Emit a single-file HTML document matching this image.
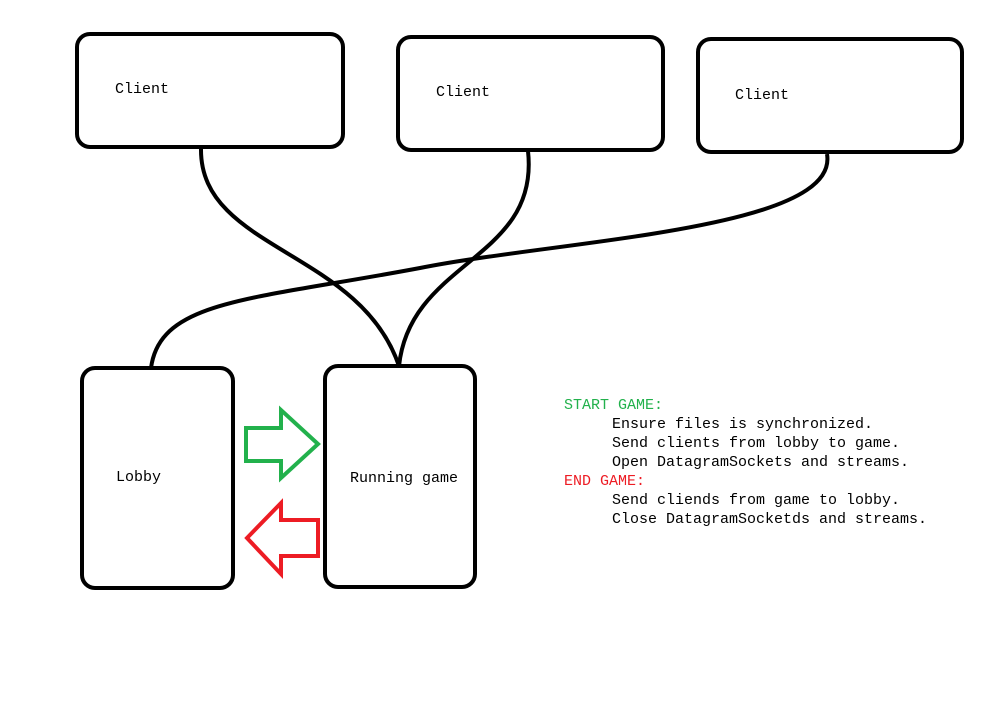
<!DOCTYPE html>
<html><head><style>body{margin:0;background:#fff}svg{display:block}</style></head><body>
<svg width="993" height="716" xmlns="http://www.w3.org/2000/svg">
<rect width="993" height="716" fill="#fff"/>
<g fill="none" stroke="#000" stroke-width="4">
<rect x="77" y="34" width="266" height="113" rx="13"/>
<rect x="398" y="37" width="265" height="113" rx="13"/>
<rect x="698" y="39" width="264" height="113" rx="13"/>
<rect x="82" y="368" width="151" height="220" rx="13"/>
<rect x="325" y="366" width="150" height="221" rx="13"/>
<path d="M201 149 C200 250 360 250 399 366"/>
<path d="M528 151 C540 260 410 260 399 366"/>
<path d="M827 154 C840 230 560 240 420 268 C250 300 160 300 151 368"/>
</g>
<path d="M246 428 L281 428 L281 410 L318 444 L281 478 L281 461 L246 461 Z" fill="none" stroke="#22b14c" stroke-width="4" stroke-linejoin="miter"/>
<path d="M318 520 L281 520 L281 503 L247 538 L281 574 L281 556 L318 556 Z" fill="none" stroke="#ed1c24" stroke-width="4"/>
<g font-family="Liberation Mono, monospace" font-size="15">
<text x="115" y="93">Client</text>
<text x="436" y="96">Client</text>
<text x="735" y="99">Client</text>
<text x="116" y="481">Lobby</text>
<text x="350" y="482">Running game</text>
<text x="564" y="409" fill="#22b14c">START GAME:</text>
<text x="612" y="428">Ensure files is synchronized.</text>
<text x="612" y="447">Send clients from lobby to game.</text>
<text x="612" y="466">Open DatagramSockets and streams.</text>
<text x="564" y="485" fill="#ed1c24">END GAME:</text>
<text x="612" y="504">Send cliends from game to lobby.</text>
<text x="612" y="523">Close DatagramSocketds and streams.</text>
</g>
</svg>
</body></html>
